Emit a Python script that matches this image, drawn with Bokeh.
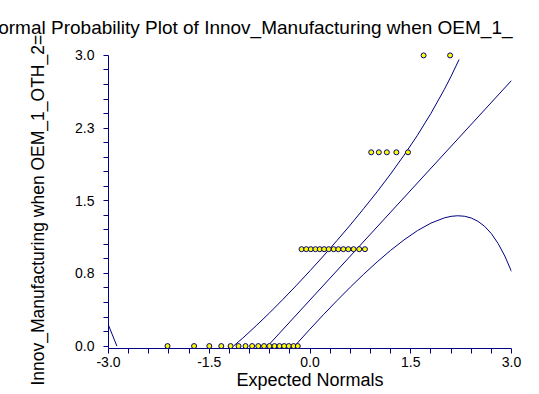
from bokeh.plotting import figure
from bokeh.models import Range1d, FixedTicker, Title
from bokeh.embed import file_html
from bokeh.resources import INLINE

# ---- data ----
title_text = "Normal Probability Plot of Innov_Manufacturing when OEM_1_"
ylabel_text = "Innov_Manufacturing when OEM_1_OTH_2="
xlabel_text = "Expected Normals"

expected_normals = [-2.121, -1.726, -1.499, -1.321, -1.182, -1.064, -0.960, -0.862,
                    -0.770, -0.684, -0.604, -0.529, -0.455, -0.385, -0.316, -0.244,
                    -0.182,
                    -0.126, -0.056, 0.012, 0.081, 0.145, 0.210, 0.279, 0.353,
                    0.422, 0.496, 0.570, 0.649, 0.733, 0.818,
                    0.911, 1.025, 1.144, 1.286, 1.459,
                    1.691, 2.086]
observed = [0, 0, 0, 0, 0, 0, 0, 0, 0, 0, 0, 0, 0, 0, 0, 0, 0,
            1, 1, 1, 1, 1, 1, 1, 1, 1, 1, 1, 1, 1, 1,
            2, 2, 2, 2, 2,
            3, 3]

ref_x = [-0.63, 3.0]
ref_y = [0.0, 2.741]

upper_x = [-1.14, -1.0, -0.8, -0.6, -0.4, -0.2, 0.0, 0.2, 0.4, 0.6, 0.8, 1.0,
           1.2, 1.4, 1.6, 1.8, 2.0, 2.1, 2.22]
upper_y = [0.0, 0.083, 0.211, 0.344, 0.484, 0.628, 0.777, 0.930, 1.088, 1.250,
           1.419, 1.593, 1.776, 1.970, 2.176, 2.401, 2.649, 2.784, 2.958]

upper_left_x = [-3.0, -2.875]
upper_left_y = [0.215, 0.0]

lower_x = [-0.229, 0.0, 0.2, 0.4, 0.6, 0.8, 1.0, 1.2, 1.4, 1.6, 1.8, 2.0, 2.1,
           2.2, 2.3, 2.4, 2.5, 2.6, 2.7, 2.8, 2.9, 3.0]
lower_y = [0.0, 0.175, 0.324, 0.468, 0.608, 0.742, 0.869, 0.988, 1.096, 1.192,
           1.269, 1.323, 1.339, 1.345, 1.340, 1.322, 1.288, 1.236, 1.161, 1.059,
           0.93, 0.77]

x_ticks = [-3.0, -1.5, 0.0, 1.5, 3.0]
x_tick_labels = ["-3.0", "-1.5", "0.0", "1.5", "3.0"]
x_minor = [-2.7, -2.4, -2.1, -1.8, -1.2, -0.9, -0.6, -0.3,
           0.3, 0.6, 0.9, 1.2, 1.8, 2.1, 2.4, 2.7]
y_ticks = [0.0, 0.75, 1.5, 2.25, 3.0]
y_tick_labels = ["0.0", "0.8", "1.5", "2.3", "3.0"]
y_minor = [0.15, 0.3, 0.45, 0.6, 0.9, 1.05, 1.2, 1.35,
           1.65, 1.8, 1.95, 2.1, 2.4, 2.55, 2.7, 2.85]

# ---- styling ----
FONT = "Liberation Sans"
NAVY = "#000080"
Y_START = -0.025

p = figure(width=539, height=394, output_backend="svg", toolbar_location=None,
           x_range=Range1d(-3, 3), y_range=Range1d(Y_START, 3.03),
           min_border_left=106, min_border_right=28,
           min_border_top=52, min_border_bottom=46)
p.background_fill_color = "white"
p.border_fill_color = "white"
p.outline_line_color = None
p.xgrid.visible = False
p.ygrid.visible = False

p.title.text = title_text
p.title.align = "left"
p.title.offset = -124
p.title.text_font = FONT
p.title.text_font_size = "19px"
p.title.text_font_style = "normal"
p.title.text_color = "black"
p.title.standoff = 29

ylab = Title(text=ylabel_text, align="left", offset=-37, text_font=FONT,
             text_font_size="17.5px", text_font_style="normal", text_color="black",
             standoff=50)
p.add_layout(ylab, "left")

for ax in (p.xaxis[0], p.yaxis[0]):
    ax.axis_line_color = NAVY
    ax.major_tick_line_color = NAVY
    ax.minor_tick_line_color = NAVY
    ax.major_tick_in = 0
    ax.major_tick_out = 5
    ax.minor_tick_in = 0
    ax.minor_tick_out = 5
    ax.major_label_text_font = FONT
    ax.major_label_text_font_size = "14px"
    ax.major_label_text_color = "black"
    ax.axis_label_text_font = FONT
    ax.axis_label_text_font_size = "18px"
    ax.axis_label_text_font_style = "normal"
    ax.axis_label_text_color = "black"

p.xaxis.ticker = FixedTicker(ticks=x_ticks, minor_ticks=x_minor)
p.xaxis.major_label_overrides = {t: l for t, l in zip(x_ticks, x_tick_labels)}
p.xaxis.bounds = (x_ticks[0], x_ticks[-1])
p.xaxis.axis_label = xlabel_text
p.xaxis.major_label_standoff = 3
p.xaxis.axis_label_standoff = 0

p.yaxis.ticker = FixedTicker(ticks=y_ticks, minor_ticks=y_minor)
p.yaxis.major_label_overrides = {t: l for t, l in zip(y_ticks, y_tick_labels)}
p.yaxis.bounds = (Y_START, y_ticks[-1])
p.yaxis.major_label_standoff = 9

p.line(ref_x, ref_y, line_color=NAVY, line_width=1)
p.line(upper_x, upper_y, line_color=NAVY, line_width=1)
p.line(upper_left_x, upper_left_y, line_color=NAVY, line_width=1)
p.line(lower_x, lower_y, line_color=NAVY, line_width=1)
p.scatter(expected_normals, observed, size=5, fill_color="#FFFF00",
          line_color=NAVY, line_width=1, level="overlay")

open("out.html", "w").write(file_html(p, INLINE))
